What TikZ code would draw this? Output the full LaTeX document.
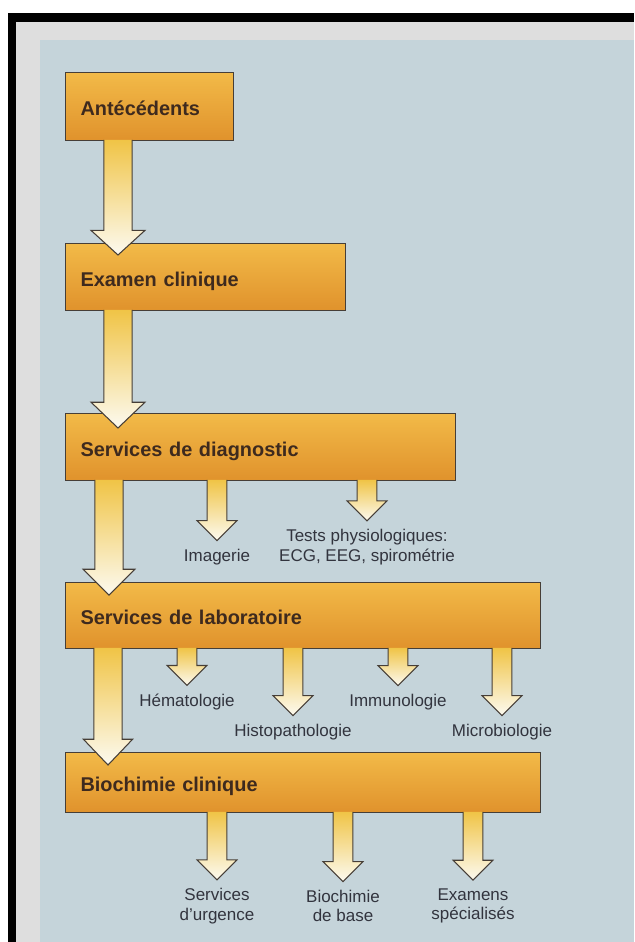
\documentclass[tikz,border=0pt]{standalone}
\usepackage{fontspec}
\setmainfont{Liberation Sans}
\usetikzlibrary{calc}
\definecolor{bgblue}{RGB}{197,212,218}
\definecolor{rimgray}{RGB}{222,222,222}
\definecolor{boxtop}{RGB}{242,186,72}
\definecolor{boxbot}{RGB}{224,146,44}
\definecolor{boxline}{RGB}{70,62,55}
\definecolor{titlebrown}{RGB}{62,42,30}
\definecolor{arrtop}{RGB}{240,196,70}
\definecolor{arrbot}{RGB}{252,250,240}
\definecolor{lbltext}{RGB}{50,52,62}
\tikzset{
BOX/.style={draw=boxline,line width=0.9pt,top color=boxtop,bottom color=boxbot,anchor=north west,
  align=left,inner xsep=0.45cm,inner ysep=0pt,text height=16pt,text depth=0pt,text=titlebrown,
  font=\fontsize{17}{20}\selectfont\bfseries},
FAT/.style={draw=boxline,line width=0.9pt,line join=miter,top color=arrtop,bottom color=arrbot},
LBL/.style={inner sep=2pt,align=center,text=lbltext,font=\fontsize{14.5}{16.5}\selectfont},
}
% from, tip, shaft half width, head half width, head length
\newcommand\fatarrow[5]{%
  \path[FAT] let \p1=(#1), \p2=(#2) in
    (\x1-#3,\y1+1pt) -- (\x1-#3,\y2+#5) -- (\x1-#4,\y2+#5) -- (\x1,\y2)
    -- (\x1+#4,\y2+#5) -- (\x1+#3,\y2+#5) -- (\x1+#3,\y1+1pt);}

\begin{document}
\begin{tikzpicture}[x=0.03cm,y=-0.03cm]
	\useasboundingbox (0,0) rectangle (634,942);
	%Frame
	\fill[white] (0,0) rectangle (634,942);
	\fill[black] (8,13) rectangle (634,942);
	\fill[rimgray] (16,22) rectangle (634,942);
	\fill[bgblue] (40,40) rectangle (634,942);
	%Boxes
	\node[BOX,text width=4.14cm,minimum height=2.04cm] (ant) at (65,72) {Antécédents};
	\node[BOX,text width=7.5cm,minimum height=2.01cm] (exam) at (65,243) {Examen clinique};
	\node[BOX,text width=10.8cm,minimum height=2.01cm] (diag) at (65,413) {Services de diagnostic};
	\node[BOX,text width=13.35cm,minimum height=1.98cm] (lab) at (65,582) {Services de laboratoire};
	\node[BOX,text width=13.35cm,minimum height=1.8cm] (bio) at (65,752) {Biochimie clinique};
	%Labels
	\node[LBL] (imag) at (217,557) {Imagerie};
	\node[LBL] (tests) at (367,547) {Tests physiologiques:\\ECG, EEG, spirométrie};
	\node[LBL] (hema) at (187,702) {Hématologie};
	\node[LBL] (histo) at (293,732) {Histopathologie};
	\node[LBL] (immu) at (398,702) {Immunologie};
	\node[LBL] (micro) at (502,732) {Microbiologie};
	\node[LBL] (urg) at (217,906) {Services\\d'urgence};
	\node[LBL] (base) at (343,906) {Biochimie\\de base};
	\node[LBL] (spec) at (473,906) {Examens\\spécialisés};
	%Main chain
	\fatarrow{$(ant.south west)+(53,0)$}{$(exam.north west)+(53,12)$}{12pt}{23pt}{21pt}
	\fatarrow{$(exam.south west)+(53,0)$}{$(diag.north west)+(53,15)$}{12pt}{23pt}{22pt}
	\fatarrow{$(diag.south west)+(44,0)$}{$(lab.north west)+(44,13)$}{12pt}{22pt}{22pt}
	\fatarrow{$(lab.south west)+(43,0)$}{$(bio.north west)+(43,13)$}{12pt}{21pt}{22pt}
	%Branches
	\foreach \src/\dst in {diag/imag,diag/tests,lab/hema,lab/histo,lab/immu,lab/micro,bio/urg,bio/base,bio/spec}{
		\fatarrow{\src.south -| \dst}{$(\dst.north)+(0,-6)$}{8.5pt}{17pt}{17pt}
	}
\end{tikzpicture}
\end{document}
